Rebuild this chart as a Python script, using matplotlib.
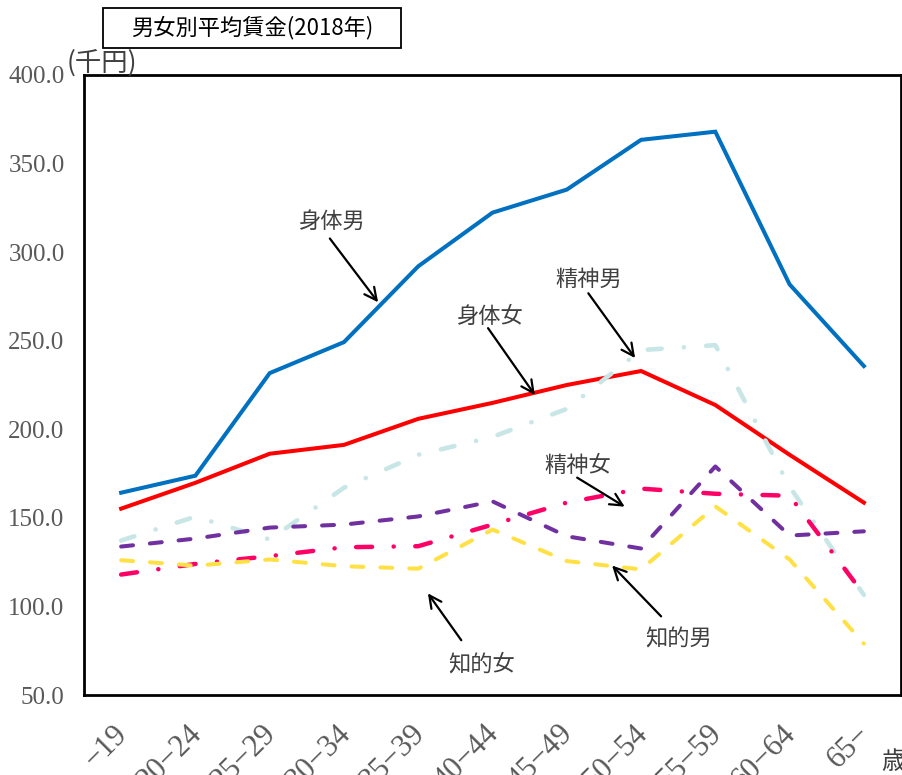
import matplotlib
matplotlib.use("Agg")
import matplotlib.pyplot as plt
import matplotlib.transforms as mtransforms
from matplotlib.patches import Rectangle

plt.rcParams['font.family'] = ['Noto Sans CJK JP', 'DejaVu Sans']
plt.rcParams['lines.scale_dashes'] = False

# age groups
ages = ['−19', '20−24', '25−29', '30−34', '35−39', '40−44',
        '45−49', '50−54', '55−59', '60−64', '65−']

# average wages (thousand yen)
body_m = [164.2, 173.8, 231.7, 249.2, 292.0, 322.3, 335.3, 363.4, 368.0, 281.8, 235.7]
body_f = [155.2, 169.8, 186.2, 191.2, 205.9, 214.9, 225.0, 232.9, 213.7, 185.6, 158.6]
mental_m = [137.2, 150.7, 137.8, 167.0, 185.6, 195.7, 211.5, 244.7, 247.5, 167.6, 106.5]
mental_f = [133.8, 138.3, 144.5, 146.2, 150.8, 159.3, 139.6, 132.7, 179.0, 140.0, 142.4]
intel_m = [118.0, 124.0, 128.4, 133.4, 134.0, 146.2, 158.6, 166.5, 163.6, 162.5, 106.8]
intel_f = [126.1, 123.0, 126.5, 122.7, 121.3, 143.4, 125.6, 120.9, 156.5, 126.5, 79.0]

x = list(range(len(ages)))

fig = plt.figure(figsize=(9.03, 7.75), dpi=100)
ax = fig.add_axes([84 / 903, 1 - 695 / 775, 817 / 903, 620 / 775])

lw = 2.9
ax.plot(x, body_m, color='#0070C0', lw=lw, solid_joinstyle='miter')
ax.plot(x, body_f, color='#FF0000', lw=lw, solid_joinstyle='miter')
ax.plot(x, mental_m, color='#C9E6E6', lw=lw + 0.4, dash_capstyle='round',
        dashes=(10, 16, 0.1, 16))
ax.plot(x, mental_f, color='#7030A0', lw=lw, dash_capstyle='round',
        dashes=(8.6, 12.2))
ax.plot(x, intel_m, color='#FF0066', lw=lw + 0.3, dash_capstyle='round',
        dashes=(11.5, 15.5, 0.1, 15.5))
ax.plot(x, intel_f, color='#FFE045', lw=lw, dash_capstyle='round',
        dashes=(8.6, 12.2))

ax.set_xlim(-0.5, len(ages) - 0.5)
ax.set_ylim(50, 400)
ax.set_yticks(range(50, 401, 50))
ax.set_yticklabels([f'{v:.1f}' for v in range(50, 401, 50)])
ax.set_xticks(x)
ax.set_xticklabels(ages, rotation=45, ha='right', va='center',
                   rotation_mode='anchor')
ax.tick_params(length=0, labelcolor='#595959')
ax.tick_params(axis='y', pad=14, labelsize=18)
ax.tick_params(axis='x', pad=25, labelsize=22)
shift = mtransforms.ScaledTranslation(2 / 100, 0, fig.dpi_scale_trans)
for lab in ax.get_xticklabels():
    lab.set_transform(lab.get_transform() + shift)
for lab in ax.get_xticklabels() + ax.get_yticklabels():
    lab.set_family(['Liberation Serif', 'DejaVu Serif'])
for s in ax.spines.values():
    s.set_linewidth(2)
    s.set_color('black')

# annotations (text, text position, arrow start, arrow tip)
notes = [
    ('身体男', (2.85, 317.3), (2.81, 307.7), (3.46, 271.7)),
    ('精神男', (6.30, 284.6), (6.29, 276.8), (6.92, 240.2)),
    ('身体女', (4.97, 263.8), (4.94, 257.1), (5.57, 219.4)),
    ('精神女', (6.15, 179.4), (6.14, 172.7), (6.78, 156.3)),
    ('知的男', (7.50, 81.5), (7.27, 94.4), (6.61, 123.1)),
    ('知的女', (4.85, 67.4), (4.58, 80.9), (4.13, 107.4)),
]
for txt, tpos, start, tip in notes:
    ax.text(tpos[0], tpos[1], txt, fontsize=16, color='#404040',
            ha='center', va='center')
    ax.annotate('', xy=tip, xytext=start,
                arrowprops=dict(arrowstyle='->', color='black', lw=1.6,
                                mutation_scale=22, shrinkA=0, shrinkB=0))

fig.text(67 / 903, 1 - 63 / 775, '(千円)', fontsize=19, color='#404040',
         ha='left', va='center')

# title box
fig.patches.append(Rectangle((103 / 903, 1 - 48 / 775), 298 / 903, 40 / 775,
                             transform=fig.transFigure, fill=False,
                             edgecolor='black', lw=1.3))
fig.text(252 / 903, 1 - 28 / 775, '男女別平均賃金(2018年)', fontsize=16,
         color='black', ha='center', va='center')

fig.text(881 / 903, 1 - 762 / 775, '歳', fontsize=18, color='#404040',
         ha='left', va='center')

fig.savefig('out.png', dpi=100)
